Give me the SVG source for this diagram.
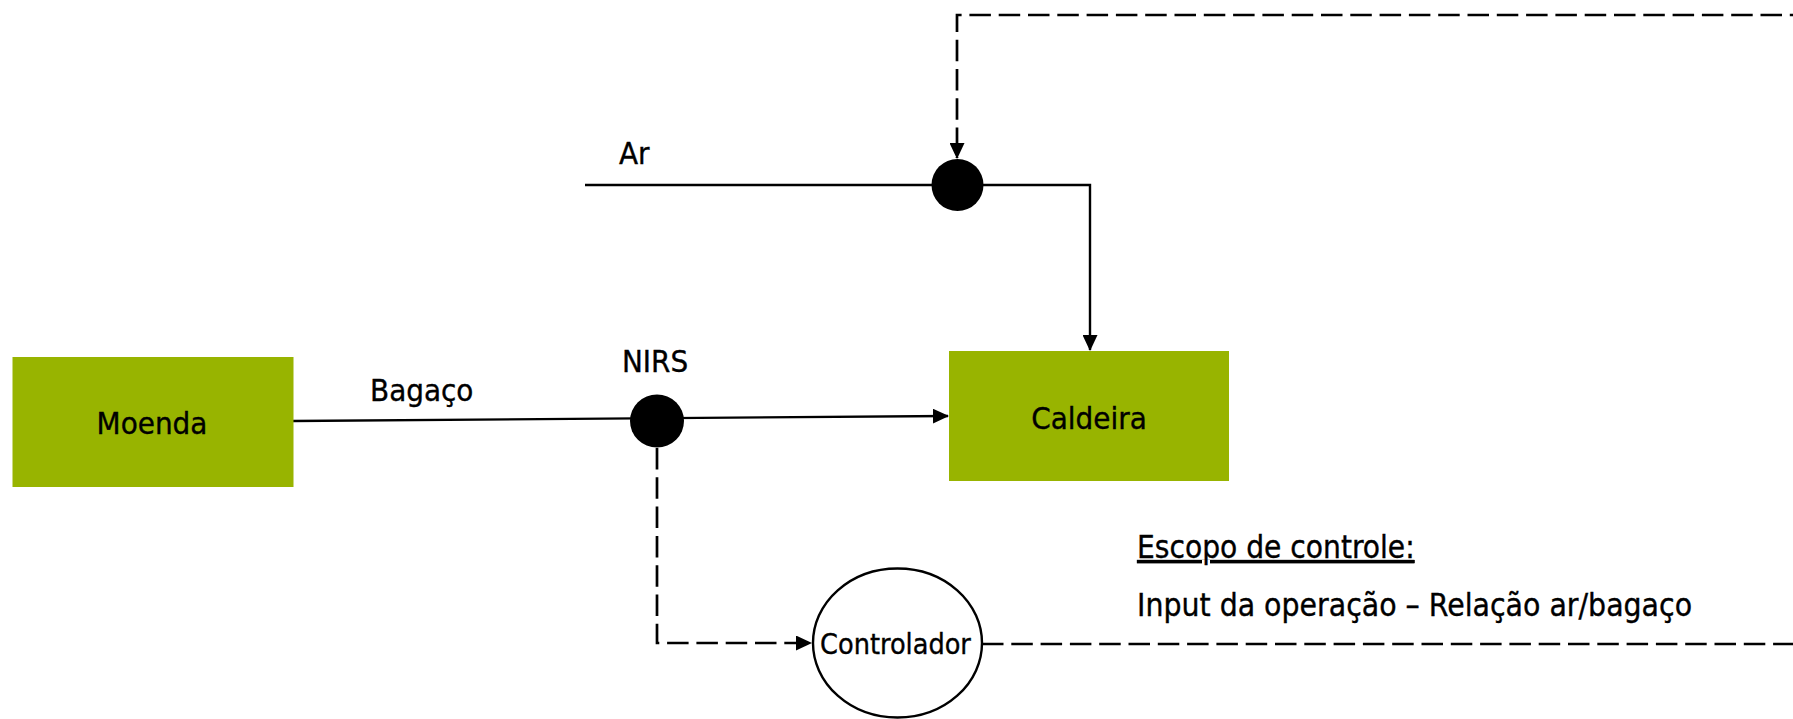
<svg xmlns="http://www.w3.org/2000/svg" width="1793" height="719" viewBox="0 0 1793 719">
  <style>
    .txt { font-family: "DejaVu Sans Condensed", "DejaVu Sans", sans-serif; font-stretch: condensed; font-size: 31px; fill: #000; stroke: #000; stroke-width: 0.35; }
    .mid { text-anchor: middle; }
    .unit { fill: #98B400; stroke: none; }
    .flow { fill: none; stroke: #000; stroke-width: 2.4; }
    .signal { fill: none; stroke: #000; stroke-width: 2.7; stroke-dasharray: 21.5 7.8; }
    .sensor { fill: #000; stroke: none; }
  </style>
  <defs>
    <marker id="arrow" viewBox="0 0 16 15" refX="15" refY="7.5" markerWidth="16" markerHeight="15" markerUnits="userSpaceOnUse" orient="auto">
      <path d="M0,0 L16,7.5 L0,15 z" fill="#000"/>
    </marker>
  </defs>
  <rect width="1793" height="719" fill="#fff"/>

  <!-- connectors -->
  <g id="connectors">
    <!-- air line into the boiler -->
    <path class="flow" d="M585,185 H1090 V350" marker-end="url(#arrow)"/>
    <!-- bagasse line from mill to boiler -->
    <path class="flow" d="M293,421 L948,416" marker-end="url(#arrow)"/>
    <!-- NIRS reading to controller -->
    <path class="signal" d="M657,448 V643 H811" marker-end="url(#arrow)"/>
    <!-- controller output back to the air valve -->
    <path class="signal" d="M982,644 H1800 V15 H957 V158" marker-end="url(#arrow)"/>
  </g>

  <g id="moenda">
    <rect class="unit" x="12.5" y="357" width="281" height="130"/>
    <text class="txt mid" x="152" y="434">Moenda</text>
  </g>

  <g id="caldeira">
    <rect class="unit" x="949" y="351" width="280" height="130"/>
    <text class="txt mid" x="1089" y="429">Caldeira</text>
  </g>

  <g id="valvula-ar">
    <ellipse class="sensor" cx="957.5" cy="185" rx="26" ry="26"/>
  </g>

  <g id="nirs">
    <ellipse class="sensor" cx="657" cy="421" rx="27" ry="26.5"/>
  </g>

  <g id="controlador">
    <ellipse cx="897.5" cy="643" rx="84.5" ry="74.5" fill="#fff" stroke="#000" stroke-width="2.4"/>
    <text class="txt mid" x="895.5" y="654" style="font-size:28.5px">Controlador</text>
  </g>

  <g id="labels">
    <text class="txt" x="619" y="164">Ar</text>
    <text class="txt" x="370" y="401">Bagaço</text>
    <text class="txt" x="622" y="372">NIRS</text>
    <text class="txt" x="1137" y="558" text-decoration="underline" style="font-size:31.3px">Escopo de controle:</text>
    <text class="txt" x="1137" y="616" style="font-size:31.6px">Input da operação – Relação ar/bagaço</text>
  </g>
</svg>
